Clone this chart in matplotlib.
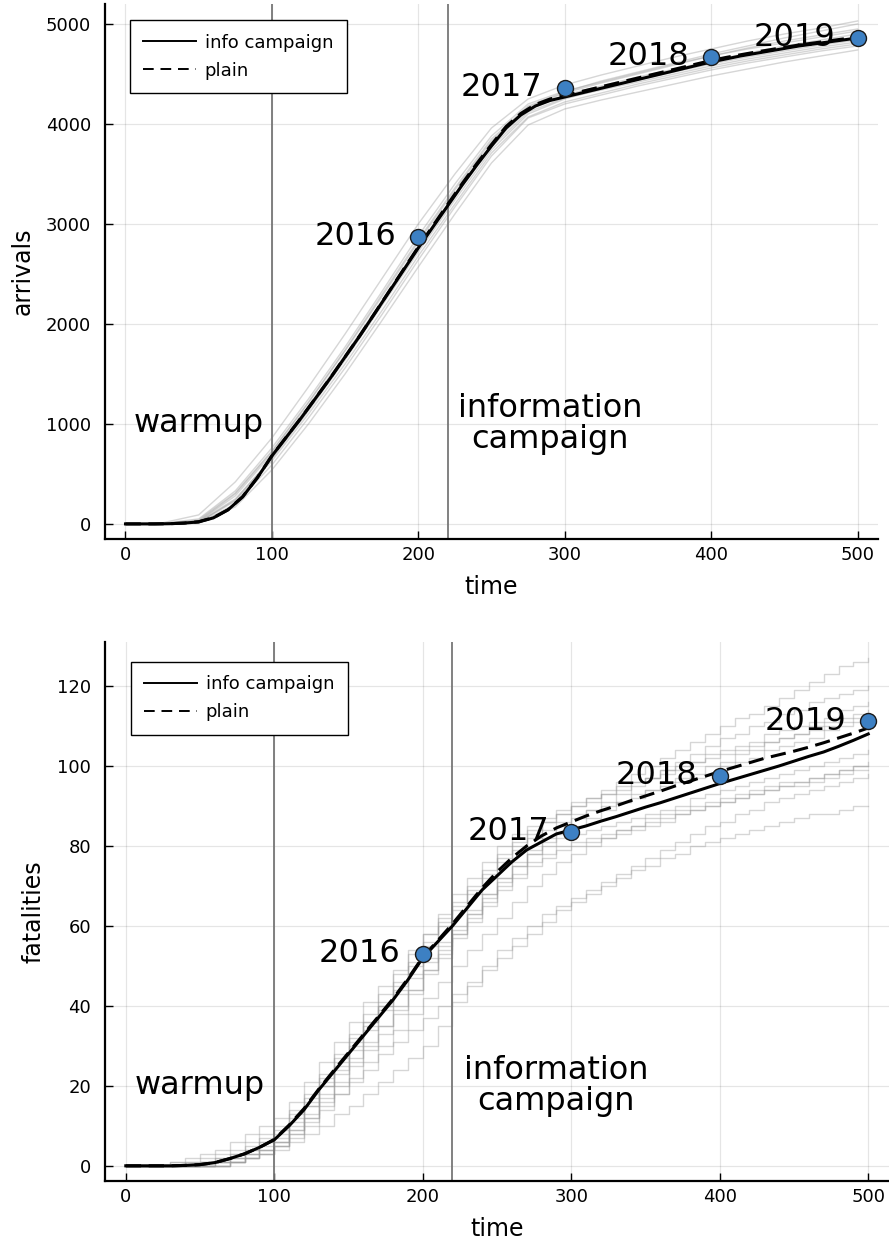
import numpy as np
import matplotlib.pyplot as plt

# time grids
t_mean = np.arange(0, 501, 10)
t_arr_runs = np.arange(0, 501, 25)
t_fat_runs = np.arange(0, 501, 10)

# observed yearly totals
years = ['2016', '2017', '2018', '2019']
obs_t = [200, 300, 400, 500]
obs_arr = [2870, 4360, 4670, 4860]
obs_fat = [53, 83.5, 97.5, 111.2]

# mean arrivals (every 10 time units)
arr_info = [0, 0, 0, 2, 8, 20, 60, 140, 270, 460, 680,
            870, 1060, 1260, 1460, 1670, 1880, 2100, 2320, 2540, 2760,
            2970, 3180, 3390, 3590, 3780, 3960, 4090, 4180, 4235, 4270,
            4305, 4340, 4375, 4410, 4445, 4480, 4515, 4550, 4585, 4620,
            4650, 4680, 4705, 4730, 4755, 4780, 4800, 4820, 4840, 4860]
arr_plain = [0, 0, 0, 2, 8, 22, 62, 142, 272, 462, 682,
             872, 1062, 1262, 1462, 1672, 1882, 2102, 2325, 2548, 2770,
             2982, 3195, 3405, 3605, 3795, 3975, 4105, 4195, 4250, 4285,
             4320, 4355, 4390, 4425, 4460, 4495, 4530, 4565, 4600, 4635,
             4665, 4692, 4718, 4742, 4766, 4790, 4810, 4830, 4850, 4870]

# individual simulation runs, arrivals (every 25 time units)
arr_runs = [
    [0, 10, 90, 420, 860, 1370, 1900, 2450, 3000, 3500, 3960, 4250, 4390, 4490, 4580, 4670, 4750, 4830, 4900, 4960, 5030],
    [0, 0, 10, 170, 540, 1000, 1500, 2030, 2570, 3100, 3610, 3990, 4150, 4240, 4320, 4400, 4480, 4550, 4620, 4680, 4740],
    [0, 0, 30, 300, 720, 1210, 1730, 2270, 2820, 3340, 3830, 4170, 4310, 4410, 4500, 4590, 4680, 4750, 4810, 4870, 4930],
    [0, 0, 15, 230, 630, 1100, 1600, 2130, 2680, 3200, 3710, 4070, 4220, 4310, 4400, 4480, 4560, 4630, 4690, 4750, 4800],
    [0, 5, 50, 330, 760, 1250, 1770, 2320, 2880, 3400, 3880, 4200, 4330, 4420, 4510, 4600, 4680, 4760, 4830, 4890, 4950],
    [0, 0, 20, 250, 650, 1130, 1640, 2180, 2720, 3240, 3740, 4100, 4250, 4350, 4440, 4520, 4600, 4670, 4730, 4790, 4840],
    [0, 0, 5, 200, 590, 1060, 1560, 2090, 2640, 3170, 3680, 4060, 4200, 4290, 4380, 4460, 4540, 4610, 4670, 4730, 4780],
    [0, 2, 40, 310, 730, 1220, 1740, 2290, 2840, 3360, 3850, 4180, 4320, 4430, 4520, 4610, 4700, 4780, 4860, 4930, 5000],
    [0, 0, 25, 280, 700, 1180, 1690, 2230, 2780, 3300, 3800, 4140, 4290, 4380, 4470, 4550, 4630, 4710, 4780, 4840, 4900],
    [0, 0, 12, 240, 660, 1150, 1670, 2210, 2760, 3280, 3770, 4120, 4260, 4340, 4420, 4500, 4580, 4650, 4710, 4770, 4820],
]

# mean fatalities (every 10 time units)
fat_info = [0, 0, 0, 0, 0.1, 0.3, 0.8, 1.8, 3, 4.6, 6.5,
            10, 14, 19, 23.5, 28, 32.5, 37, 41.5, 46.5, 52,
            56, 60, 64.5, 69, 72.5, 76, 79, 81, 83, 84,
            85, 86.2, 87.3, 88.5, 89.7, 90.8, 92, 93.2, 94.4, 95.6,
            96.7, 97.8, 98.9, 100, 101.2, 102.4, 103.5, 104.9, 106.4, 108]
fat_plain = [0, 0, 0, 0, 0.1, 0.3, 0.8, 1.8, 3, 4.6, 6.6,
             10.2, 14.3, 19.2, 23.8, 28.3, 32.8, 37.3, 41.8, 46.8, 52.2,
             56.3, 60.5, 65, 69.5, 73.5, 77, 80, 82.5, 84.5, 86,
             87.5, 88.8, 90, 91.3, 92.5, 93.7, 95, 96.2, 97.4, 98.6,
             99.7, 100.8, 101.9, 102.8, 103.7, 104.7, 105.8, 107, 108.2, 109.5]

# individual simulation runs, fatalities (every 10 time units, step counts)
fat_runs = [
    [0, 0, 0, 1, 2, 3, 4, 6, 8, 10, 12, 16, 21, 26, 31, 36, 41, 45, 49, 54, 58,
     62, 66, 70, 74, 78, 81, 84, 86, 88, 90, 92, 94, 96, 98, 100, 102, 104, 106, 108, 110,
     112, 113, 115, 117, 119, 121, 123, 125, 126, 127],
    [0, 0, 0, 0, 0, 0, 1, 1, 2, 3, 4, 6, 8, 10, 13, 15, 18, 21, 24, 27, 30,
     35, 41, 45, 49, 52, 55, 58, 61, 64, 66, 68, 70, 72, 74, 75, 77, 78, 80, 81, 82,
     83, 84, 85, 86, 87, 88, 88, 89, 90, 90],
    [0, 0, 0, 0, 0, 0, 0, 1, 2, 3, 5, 8, 11, 15, 18, 21, 24, 28, 31, 34, 37,
     40, 43, 46, 50, 54, 57, 60, 63, 65, 67, 69, 71, 73, 75, 77, 79, 81, 83, 85, 86,
     88, 89, 91, 92, 93, 94, 95, 96, 97, 98],
    [0, 0, 0, 0, 0, 1, 1, 2, 4, 6, 8, 12, 16, 21, 26, 31, 36, 40, 45, 50, 55,
     60, 64, 68, 72, 76, 79, 82, 84, 86, 88, 89, 90, 91, 92, 94, 95, 96, 97, 98, 100,
     101, 102, 104, 105, 106, 107, 109, 110, 111, 113],
    [0, 0, 0, 0, 0, 0, 0, 1, 2, 4, 5, 8, 12, 16, 20, 25, 29, 33, 38, 43, 48,
     52, 57, 61, 66, 70, 73, 76, 78, 80, 81, 82, 83, 84, 85, 86, 87, 88, 89, 90, 91,
     92, 93, 94, 95, 96, 97, 98, 99, 100, 101],
    [0, 0, 0, 1, 1, 2, 3, 4, 6, 8, 10, 14, 18, 23, 28, 33, 38, 43, 48, 53, 58,
     63, 68, 72, 76, 80, 83, 85, 87, 89, 91, 92, 93, 95, 96, 97, 99, 100, 101, 103, 104,
     105, 106, 108, 109, 110, 111, 112, 114, 115, 116],
    [0, 0, 0, 0, 0, 0, 1, 2, 3, 4, 6, 9, 13, 18, 23, 27, 31, 35, 40, 44, 49,
     54, 58, 63, 68, 72, 76, 79, 82, 85, 87, 89, 91, 93, 95, 97, 99, 101, 103, 105, 107,
     108, 110, 111, 113, 114, 116, 117, 118, 119, 120],
    [0, 0, 0, 0, 0, 0, 0, 1, 2, 3, 5, 7, 10, 14, 18, 22, 26, 30, 34, 38, 42,
     46, 50, 54, 58, 62, 66, 70, 73, 76, 78, 80, 82, 84, 85, 87, 88, 89, 90, 91, 92,
     93, 94, 95, 96, 96, 97, 98, 99, 100, 100],
    [0, 0, 0, 0, 0, 1, 2, 3, 4, 6, 7, 11, 15, 20, 25, 30, 35, 40, 44, 48, 52,
     56, 60, 64, 68, 72, 75, 78, 80, 82, 83, 84, 85, 86, 87, 88, 89, 90, 92, 93, 94,
     95, 96, 97, 98, 99, 100, 101, 102, 103, 104],
    [0, 0, 0, 0, 0, 0, 1, 2, 3, 5, 6, 10, 15, 20, 24, 29, 34, 39, 43, 47, 51,
     55, 59, 63, 67, 71, 75, 78, 81, 83, 85, 87, 89, 91, 93, 94, 96, 97, 98, 100, 101,
     103, 104, 106, 107, 108, 110, 111, 112, 113, 114],
    [0, 0, 0, 0, 1, 1, 2, 3, 5, 7, 9, 13, 17, 22, 27, 32, 36, 41, 46, 51, 56,
     61, 65, 69, 73, 77, 80, 83, 86, 88, 90, 91, 93, 94, 96, 97, 98, 99, 101, 102, 103,
     104, 105, 106, 107, 108, 109, 110, 111, 112, 112],
    [0, 0, 0, 0, 0, 0, 0, 1, 3, 4, 6, 9, 12, 17, 21, 26, 30, 35, 39, 44, 49,
     53, 58, 62, 65, 69, 72, 75, 77, 79, 80, 81, 82, 83, 84, 85, 86, 88, 89, 90, 91,
     92, 93, 94, 95, 95, 96, 97, 98, 99, 99],
]

# phase boundaries
warmup_end = 100
campaign_start = 220

marker_color = '#3d80c3'

fig = plt.figure(figsize=(8.89, 12.43), dpi=100)
ax1 = fig.add_axes([105 / 889, 1 - 539 / 1243, 773 / 889, 535 / 1243])
ax2 = fig.add_axes([105 / 889, 1 - 1181 / 1243, 784 / 889, 539 / 1243])


def style_axes(ax, ylim, yticks, ylabel):
    ax.set_xlim(-14, 514)
    ax.set_ylim(*ylim)
    ax.set_xticks([0, 100, 200, 300, 400, 500])
    ax.set_yticks(yticks)
    ax.grid(True, color='black', alpha=0.1, linewidth=0.9)
    ax.set_axisbelow(True)
    ax.spines['top'].set_visible(False)
    ax.spines['right'].set_visible(False)
    ax.spines['left'].set_linewidth(1.6)
    ax.spines['bottom'].set_linewidth(1.6)
    ax.tick_params(axis='both', direction='in', length=6, width=1, labelsize=13)
    ax.tick_params(axis='y', pad=10)
    ax.tick_params(axis='x', pad=5)
    ax.set_xlabel('time', fontsize=17, labelpad=8)
    ax.set_ylabel(ylabel, fontsize=17, labelpad=8)


def draw_panel(ax, t_runs, runs, mean_info, mean_plain, obs, step):
    for run in runs:
        ax.plot(t_runs, run, color='#999999', alpha=0.4, linewidth=1,
                drawstyle='steps-post' if step else 'default', zorder=1)
    ax.axvline(warmup_end, color='#777777', linewidth=1.3, zorder=2)
    ax.axvline(campaign_start, color='#777777', linewidth=1.3, zorder=2)
    l1, = ax.plot(t_mean, mean_info, color='black', linewidth=2.2, zorder=3,
                  label='info campaign')
    l2, = ax.plot(t_mean, mean_plain, color='black', linewidth=2.2, zorder=3,
                  linestyle=(0, (5, 2.5)), label='plain')
    ax.plot(obs_t, obs, 'o', color=marker_color, markersize=11.5,
            markeredgecolor='#1a1a1a', markeredgewidth=1, zorder=4)
    for x, y, lab in zip(obs_t, obs, years):
        ax.text(x - 15, y, lab, fontsize=23, ha='right', va='center', zorder=5)
    leg = ax.legend(handles=[l1, l2], loc='upper left', fontsize=13,
                    fancybox=False, edgecolor='black', framealpha=1,
                    handlelength=2.9, handletextpad=0.5, labelspacing=0.55,
                    borderpad=0.75, borderaxespad=0)
    leg.get_frame().set_linewidth(1.0)
    legend_lines = leg.get_lines()
    for line in legend_lines:
        line.set_linewidth(1.4)
    legend_lines[1].set_linestyle((0, (5.5, 3.5)))
    return leg


# arrivals panel
leg1 = draw_panel(ax1, t_arr_runs, arr_runs, arr_info, arr_plain, obs_arr, False)
leg1.set_bbox_to_anchor((0.032, 0.97), transform=ax1.transAxes)
style_axes(ax1, (-151, 5200), [0, 1000, 2000, 3000, 4000, 5000], 'arrivals')
ax1.text(50, 1000, 'warmup', fontsize=23, ha='center', va='center')
ax1.text(290, 1000, 'information\ncampaign', fontsize=23, ha='center',
         va='center', multialignment='center', linespacing=1.0)

# fatalities panel
leg2 = draw_panel(ax2, t_fat_runs, fat_runs, fat_info, fat_plain, obs_fat, True)
leg2.set_bbox_to_anchor((0.033, 0.963), transform=ax2.transAxes)
style_axes(ax2, (-3.8, 131), [0, 20, 40, 60, 80, 100, 120], 'fatalities')
ax2.text(50, 20, 'warmup', fontsize=23, ha='center', va='center')
ax2.text(290, 20, 'information\ncampaign', fontsize=23, ha='center',
         va='center', multialignment='center', linespacing=1.0)

plt.savefig('out.png', dpi=100)
